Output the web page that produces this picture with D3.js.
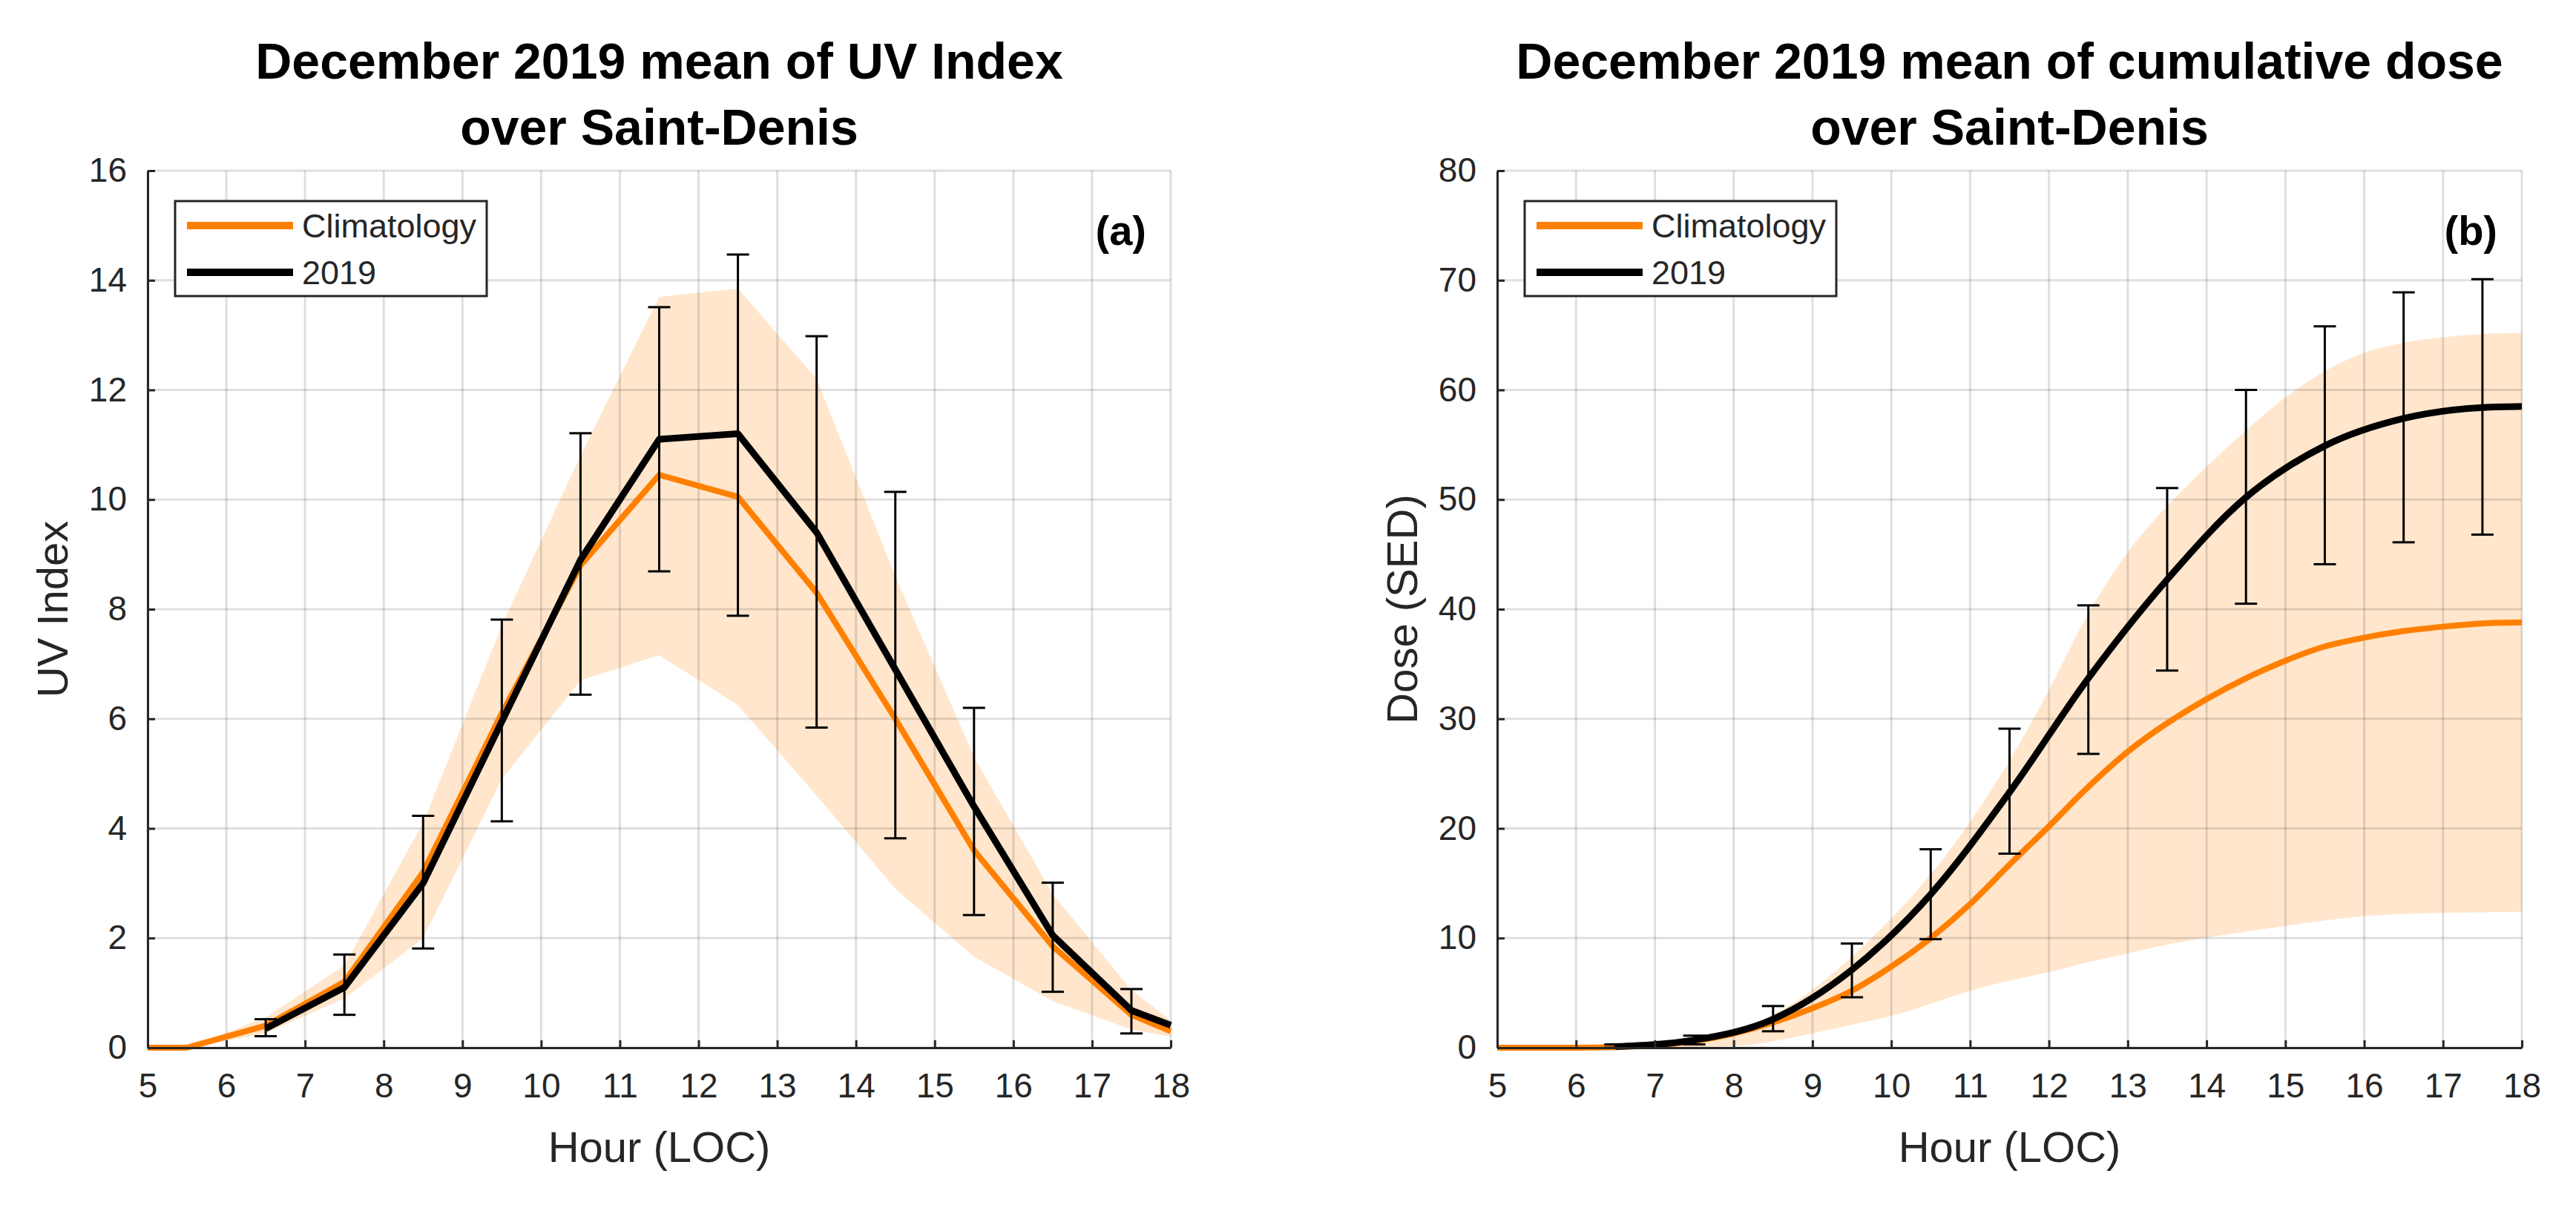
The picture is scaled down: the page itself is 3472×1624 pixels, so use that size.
<!DOCTYPE html>
<html>
<head>
<meta charset="utf-8">
<script src="https://cdn.jsdelivr.net/npm/d3@7/dist/d3.min.js"></script>
<style>
  html, body { margin: 0; padding: 0; background: #fff; }
  svg { display: block; }
  text { font-family: "Liberation Sans", Arial, Helvetica, sans-serif; }
</style>
</head>
<body>
<svg id="chart" width="3472" height="1624"></svg>
<script>
// ---- data: panel (a) UV index ----
const hourTicks = d3.range(5, 19, 1);
const uvTicks = d3.range(0, 17, 2);
const doseTicks = d3.range(0, 81, 10);

const uvClimHours = [5, 5.5, 6.5, 7.5, 8.5, 9.5, 10.5, 11.5, 12.5, 13.5, 14.5, 15.5, 16.5, 17.5, 18];
const uvClim      = [0, 0, 0.4, 1.2, 3.2, 6.1, 8.8, 10.45, 10.05, 8.3, 6.0, 3.6, 1.85, 0.6, 0.3];

const uvBandHours = [5.5, 6.5, 7.5, 8.5, 9.5, 10.5, 11.5, 12.5, 13.5, 14.5, 15.5, 16.5, 17.5, 18];
const uvBandHigh  = [0, 0.55, 1.5, 4.1, 7.7, 10.8, 13.7, 13.85, 12.2, 8.6, 5.3, 2.8, 1.05, 0.5];
const uvBandLow   = [0, 0.26, 0.9, 2.0, 4.9, 6.7, 7.16, 6.25, 4.6, 2.9, 1.66, 0.85, 0.33, 0.2];

const uv2019Hours = [6.5, 7.5, 8.5, 9.5, 10.5, 11.5, 12.5, 13.5, 14.5, 15.5, 16.5, 17.5, 18];
const uv2019      = [0.35, 1.1, 3.0, 5.95, 8.9, 11.1, 11.2, 9.4, 6.9, 4.4, 2.05, 0.68, 0.41];

const uvErrHours = [6.5, 7.5, 8.5, 9.5, 10.5, 11.5, 12.5, 13.5, 14.5, 15.5, 16.5, 17.5];
const uvErrLow   = [0.21, 0.60, 1.81, 4.13, 6.44, 8.69, 7.88, 5.84, 3.82, 2.42, 1.02, 0.26];
const uvErrHigh  = [0.52, 1.70, 4.23, 7.81, 11.21, 13.51, 14.47, 12.98, 10.14, 6.20, 3.01, 1.07];

// ---- data: panel (b) cumulative dose ----
const doseClimHours = [5, 5.5, 6, 6.5, 7, 7.5, 8, 8.5, 9, 9.5, 10, 10.5, 11, 11.5, 12, 12.5, 13, 13.5, 14, 14.5, 15, 15.5, 16, 16.5, 17, 17.5, 18];
const doseClim      = [0, 0, 0, 0.05, 0.2, 0.6, 1.3, 2.3, 3.6, 5.2, 7.4, 10.0, 13.1, 16.7, 20.2, 23.8, 27.0, 29.6, 31.8, 33.7, 35.3, 36.6, 37.4, 38.0, 38.4, 38.7, 38.8];

const doseBandHours = [5, 6, 6.5, 7, 7.5, 8, 8.5, 9, 9.5, 10, 10.5, 11, 11.5, 12, 12.5, 13, 13.5, 14, 14.5, 15, 15.5, 16, 16.5, 17, 17.5, 18];
const doseBandHigh  = [0, 0, 0.1, 0.3, 0.7, 1.5, 3.0, 5.3, 8.3, 11.8, 15.8, 20.6, 26.2, 32.6, 39.6, 45.2, 49.4, 53.0, 56.3, 59.3, 61.7, 63.4, 64.3, 64.8, 65.1, 65.2];
const doseBandLow   = [0, 0, 0, 0, 0.05, 0.15, 0.6, 1.3, 2.1, 2.9, 4.0, 5.2, 6.1, 6.9, 7.8, 8.6, 9.4, 10.05, 10.6, 11.1, 11.6, 12.0, 12.2, 12.3, 12.35, 12.4];

const dose2019Hours = [6.5, 7.5, 8.5, 9.5, 10.5, 11.5, 12.5, 13.5, 14.5, 15.5, 16.5, 17.5, 18];
const dose2019      = [0.1, 0.7, 2.6, 7.1, 14.0, 23.3, 33.7, 42.7, 50.2, 54.9, 57.4, 58.4, 58.5];

const doseErrHours = [6.5, 7.5, 8.5, 9.5, 10.5, 11.5, 12.5, 13.5, 14.5, 15.5, 16.5, 17.5];
const doseErrLow   = [0, 0.3, 1.5, 4.6, 9.9, 17.7, 26.8, 34.4, 40.5, 44.1, 46.1, 46.8];
const doseErrHigh  = [0.3, 1.1, 3.8, 9.5, 18.1, 29.1, 40.35, 51.05, 60.0, 65.8, 68.9, 70.1];

const legendNames = ["Climatology", "2019"];

// ---- style ----
const ORANGE = "#ff8000";
const BAND = "#ffe6cc";
const AXIS = "#262626";

const svg = d3.select("#chart");
svg.append("rect").attr("width", 3472).attr("height", 1624).attr("fill", "#fff");

function zip(xs, ys) { return xs.map((x, i) => [x, ys[i]]); }

function drawPanel(p) {
    let g = svg.append("g");
    let x = d3.scaleLinear().domain([5, 18]).range([p.left, p.right]);
    let y = d3.scaleLinear().domain([0, p.ymax]).range([1412, 230]);

    // shaded climatology range
    let band = p.bandHours.map((h, i) => ({h: h, lo: p.bandLow[i], hi: p.bandHigh[i]}));
    g.append("path")
        .datum(band)
        .attr("fill", BAND)
        .attr("d", d3.area().x(d => x(d.h)).y0(d => y(d.lo)).y1(d => y(d.hi)).curve(p.curve));

    // grid
    g.append("g").selectAll("line").data(hourTicks).join("line")
        .attr("x1", d => x(d)).attr("x2", d => x(d))
        .attr("y1", y(0)).attr("y2", y(p.ymax))
        .attr("stroke", "rgba(38,38,38,0.15)").attr("stroke-width", 3);
    g.append("g").selectAll("line").data(p.yTicks).join("line")
        .attr("x1", x(5)).attr("x2", x(18))
        .attr("y1", d => y(d)).attr("y2", d => y(d))
        .attr("stroke", "rgba(38,38,38,0.15)").attr("stroke-width", 3);

    // lines
    let line = d3.line().x(d => x(d[0])).y(d => y(d[1])).curve(p.curve);
    g.append("path").datum(zip(p.climHours, p.clim))
        .attr("fill", "none").attr("stroke", ORANGE).attr("stroke-width", 8)
        .attr("stroke-linejoin", "round").attr("d", line);
    g.append("path").datum(zip(p.yrHours, p.yr))
        .attr("fill", "none").attr("stroke", "#000").attr("stroke-width", 9)
        .attr("stroke-linejoin", "round").attr("d", line);

    // error bars
    let eb = g.append("g").attr("stroke", "#000").attr("stroke-width", 3);
    p.errHours.forEach((h, i) => {
        let cx = x(h), y0 = y(p.errLow[i]), y1 = y(p.errHigh[i]);
        eb.append("line").attr("x1", cx).attr("x2", cx).attr("y1", y0).attr("y2", y1);
        eb.append("line").attr("x1", cx - 15).attr("x2", cx + 15).attr("y1", y0).attr("y2", y0);
        eb.append("line").attr("x1", cx - 15).attr("x2", cx + 15).attr("y1", y1).attr("y2", y1);
    });

    // axes
    let ax = g.append("g").attr("transform", `translate(${p.left},0)`)
        .call(d3.axisLeft(y).tickValues(p.yTicks).tickSizeInner(-10).tickSizeOuter(0).tickPadding(28));
    let bx = g.append("g").attr("transform", "translate(0,1412)")
        .call(d3.axisBottom(x).tickValues(hourTicks).tickSizeInner(-10).tickSizeOuter(0).tickPadding(34));
    [ax, bx].forEach(a => {
        a.select(".domain").attr("stroke", AXIS).attr("stroke-width", 3);
        a.selectAll(".tick line").attr("stroke", AXIS).attr("stroke-width", 3);
        a.selectAll(".tick text").attr("fill", AXIS).attr("font-size", 46);
    });
    bx.selectAll(".tick text").attr("dy", "0.71em");

    // labels
    let cx = (p.left + p.right) / 2;
    g.append("text").attr("x", cx).attr("y", 1566).attr("text-anchor", "middle")
        .attr("font-size", 58).attr("fill", AXIS).text("Hour (LOC)");
    g.append("text").attr("transform", `translate(${p.left - 108},821) rotate(-90)`)
        .attr("text-anchor", "middle").attr("font-size", 58).attr("fill", AXIS).text(p.ylabel);
    p.title.forEach((t, i) => {
        g.append("text").attr("x", cx).attr("y", 106 + i * 89).attr("text-anchor", "middle")
            .attr("font-size", 68).attr("font-weight", "bold").attr("fill", "#000").text(t);
    });
    g.append("text").attr("x", p.right - 33).attr("y", 330).attr("text-anchor", "end")
        .attr("font-size", 56).attr("font-weight", "bold").attr("fill", "#000").text(p.tag);

    // legend
    let lg = g.append("g").attr("transform", `translate(${p.left + 37},271)`);
    lg.append("rect").attr("width", 420).attr("height", 128)
        .attr("fill", "#fff").attr("stroke", AXIS).attr("stroke-width", 3);
    [ORANGE, "#000"].forEach((c, i) => {
        lg.append("line").attr("x1", 16).attr("x2", 159).attr("y1", 33 + i * 63).attr("y2", 33 + i * 63)
            .attr("stroke", c).attr("stroke-width", 10);
        lg.append("text").attr("x", 171).attr("y", 33 + i * 63).attr("dy", "0.36em")
            .attr("font-size", 45).attr("fill", AXIS).text(legendNames[i]);
    });
}

drawPanel({
    left: 199, right: 1578, ymax: 16, yTicks: uvTicks, curve: d3.curveLinear,
    bandHours: uvBandHours, bandLow: uvBandLow, bandHigh: uvBandHigh,
    climHours: uvClimHours, clim: uvClim,
    yrHours: uv2019Hours, yr: uv2019,
    errHours: uvErrHours, errLow: uvErrLow, errHigh: uvErrHigh,
    ylabel: "UV Index", tag: "(a)",
    title: ["December 2019 mean of UV Index", "over Saint-Denis"]
});

drawPanel({
    left: 2018, right: 3399, ymax: 80, yTicks: doseTicks, curve: d3.curveMonotoneX,
    bandHours: doseBandHours, bandLow: doseBandLow, bandHigh: doseBandHigh,
    climHours: doseClimHours, clim: doseClim,
    yrHours: dose2019Hours, yr: dose2019,
    errHours: doseErrHours, errLow: doseErrLow, errHigh: doseErrHigh,
    ylabel: "Dose (SED)", tag: "(b)",
    title: ["December 2019 mean of cumulative dose", "over Saint-Denis"]
});
</script>
</body>
</html>
